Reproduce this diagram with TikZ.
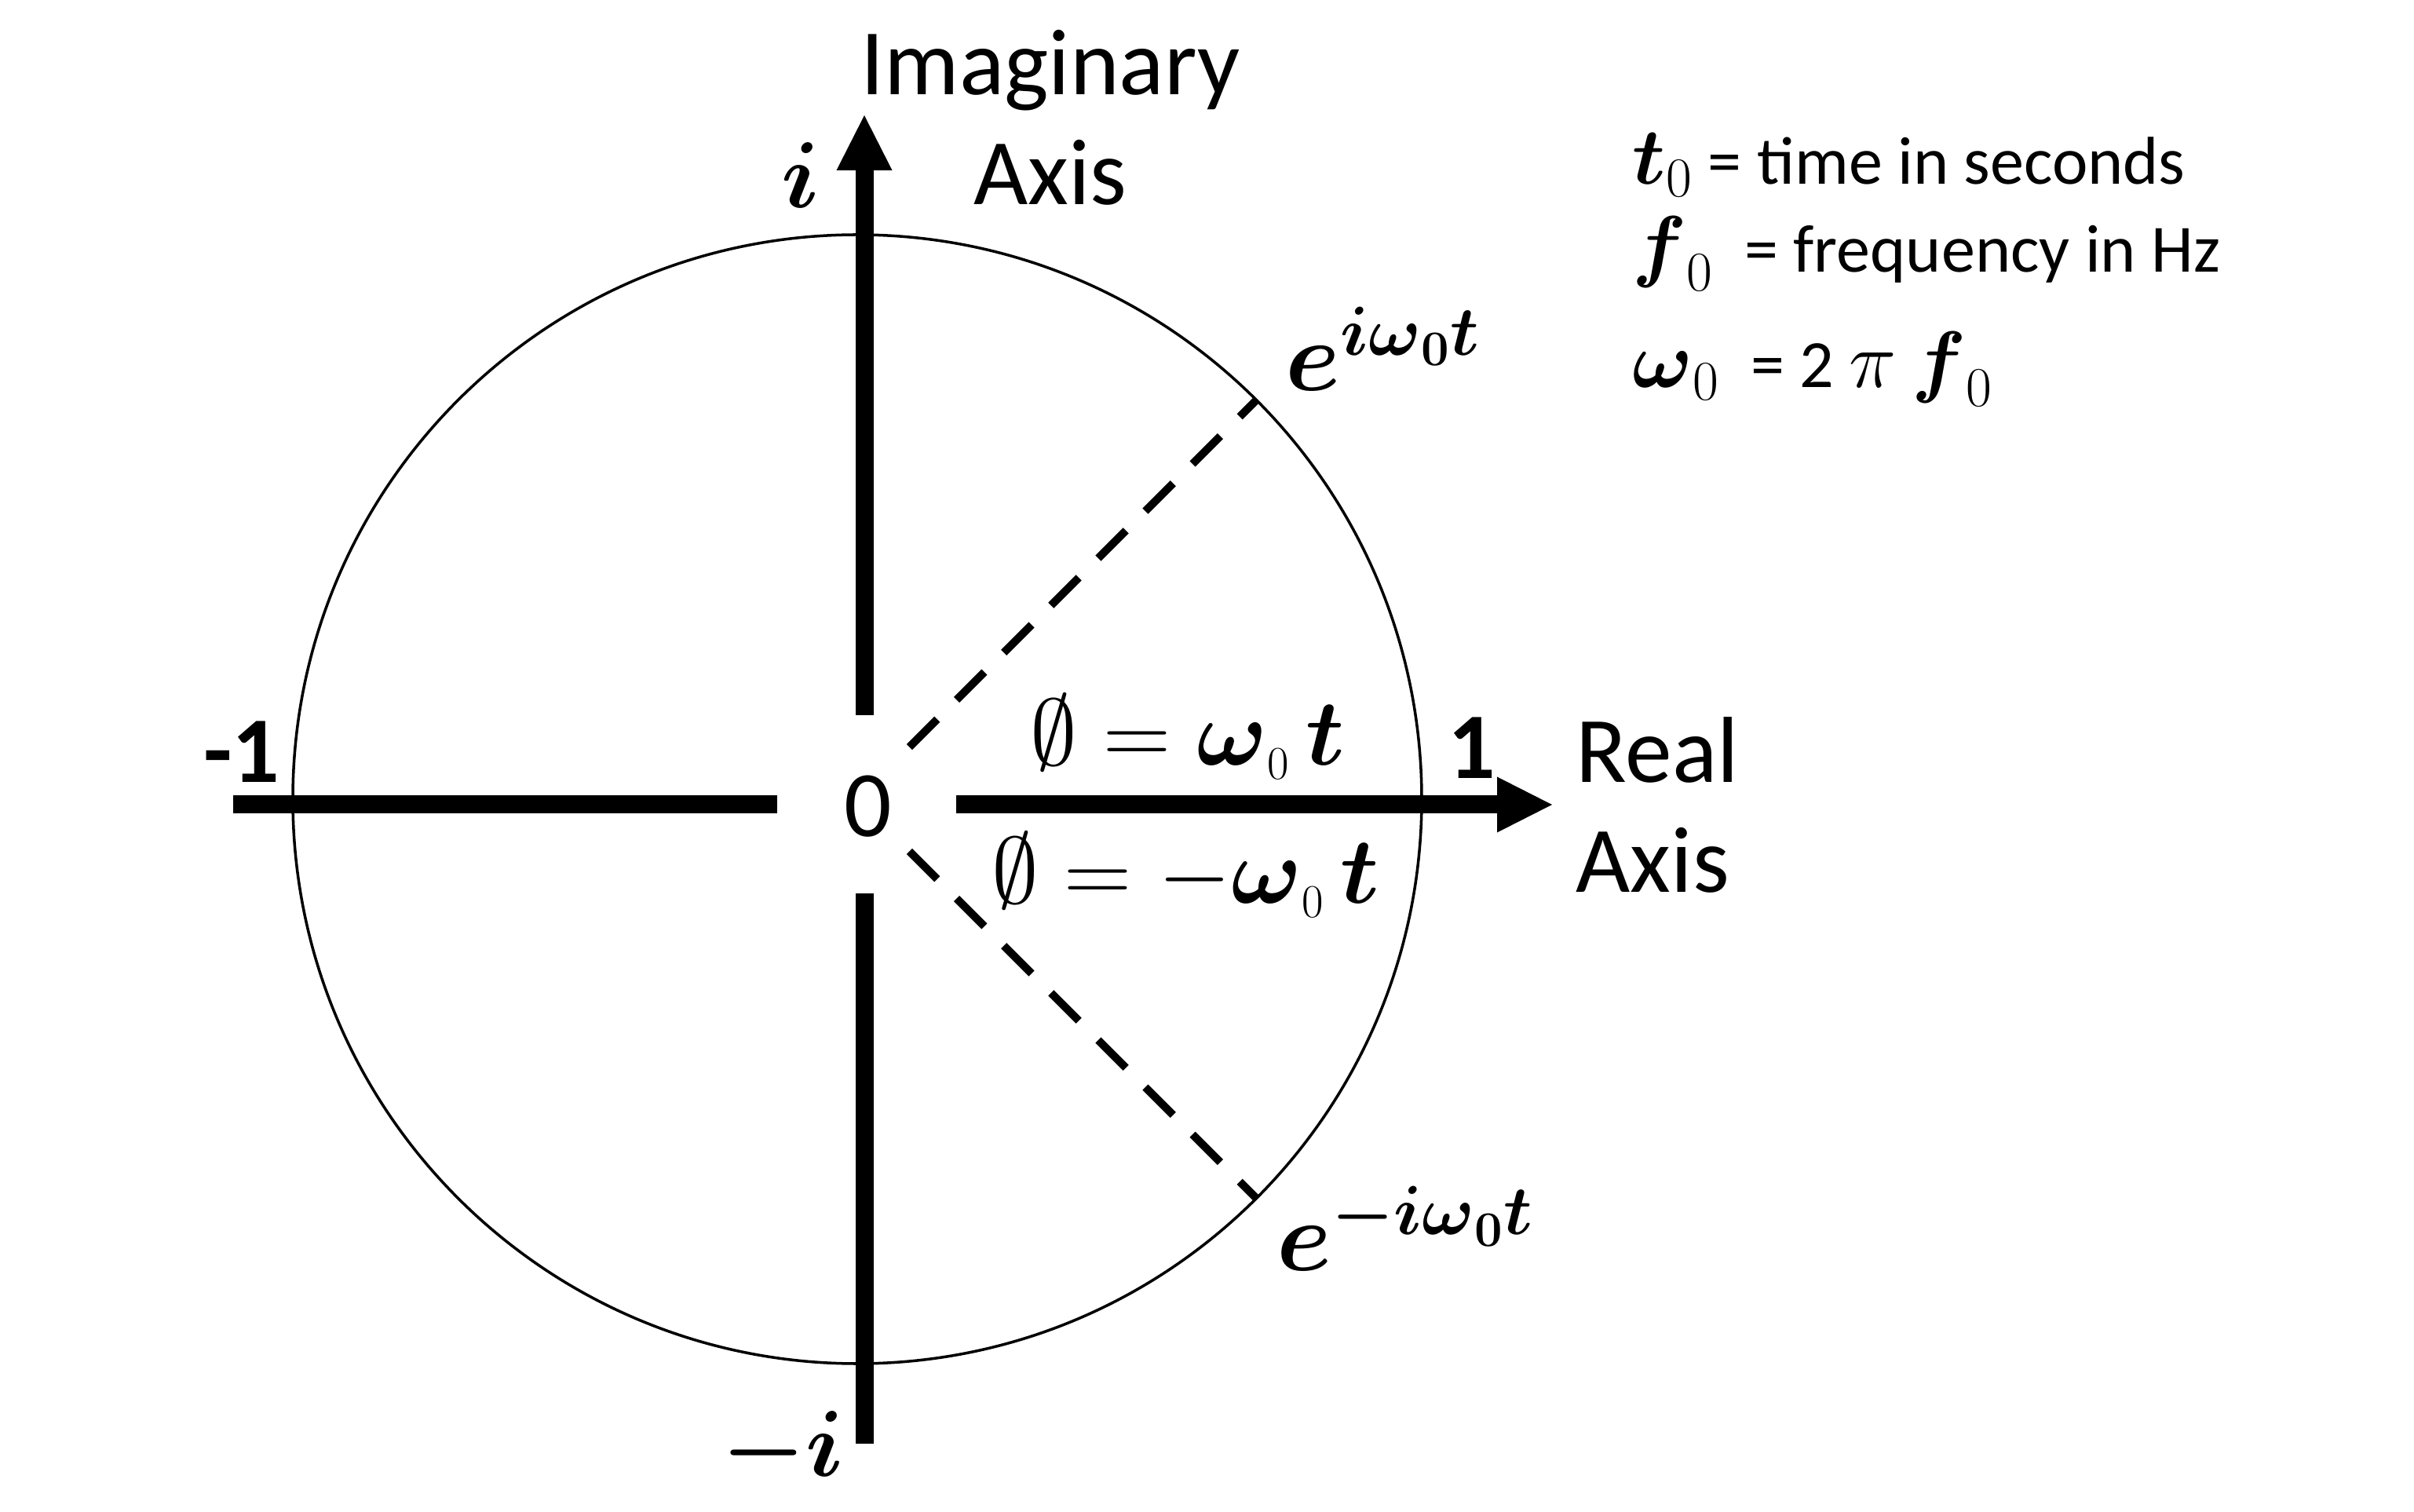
\RequirePackage{fix-cm}
\documentclass[tikz,border=0pt]{standalone}
\usepackage{amsmath}
\usepackage[no-math]{fontspec}
\setmainfont{Carlito}
\usepackage{tikz}
\usetikzlibrary{arrows.meta, calc}
\tikzset{
  axisbar/.style={line width=2.3mm},
  axisarrow/.style={axisbar, -{Triangle[length=7mm, width=7.1mm, line width=0pt]}},
  phaseline/.style={line width=1mm, dash pattern=on 5mm off 3.5mm},
  unitcircle/.style={line width=1pt},
  biglabel/.style={font=\fontsize{34}{40}\selectfont, inner sep=0pt},
  ticklabel/.style={biglabel, font=\fontsize{34}{40}\selectfont\bfseries},
  deflabel/.style={font=\fontsize{24.5}{28}\selectfont, inner sep=0pt, anchor=base west}
}
\newcommand{\defsym}[1]{{\fontsize{29}{34}\selectfont$#1$}}

\begin{document}
\begin{tikzpicture}

% --- Radii ---
\def\rad{7.19}
\def\rin{0.94}

\useasboundingbox (-11.01,-9.01) rectangle (19.74,10.25);

% --- Origin of the axes and centre of the circle ---
\coordinate (O) at (0,0);
\coordinate (c) at (-0.09,0.07);

% --- Unit circle ---
\draw[unitcircle] (c) circle (\rad);

% --- Axis ends ---
\coordinate (xneg)   at (-8.04,0);
\coordinate (xnegin) at (-1.11,0);
\coordinate (xposin) at (1.17,0);
\coordinate (xpos)   at (8.76,0);
\coordinate (yposin) at (0,1.14);
\coordinate (ypos)   at (0,8.78);
\coordinate (ynegin) at (0,-1.13);
\coordinate (yneg)   at (0,-8.14);

% --- Axes ---
\draw[axisbar]   (xneg) -- (xnegin);
\draw[axisarrow] (xposin) -- (xpos);
\draw[axisarrow] (yposin) -- (ypos);
\draw[axisbar]   (ynegin) -- (yneg);

% --- Phase lines (45 degrees up and down) ---
\coordinate (pu0) at ($(c)+(45:\rin)$);
\coordinate (pu1) at ($(c)+(45:\rad)$);
\coordinate (pd0) at ($(c)+(-45:\rin)$);
\coordinate (pd1) at ($(c)+(-45:\rad)$);
\draw[phaseline] (pu0) -- (pu1);
\draw[phaseline] (pd0) -- (pd1);

% --- Axis labels (base = baseline of the last line) ---
\node[biglabel, align=center, anchor=base] (lblImag) at (2.37,7.64) {Imaginary\\Axis};
\node[biglabel, align=left, anchor=base west] (lblReal) at (9.06,-1.12) {Real\\Axis};
\node[biglabel] (lblZero) at (0.05,-0.02) {0};
\node[ticklabel, anchor=base] (lblMinusOne) at (-7.93,0.28) {-1};
\node[ticklabel, anchor=base] (lblOne) at (7.74,0.33) {1};
\node[biglabel, anchor=base] (lblI) at (-0.81,7.6) {$\boldsymbol{i}$};
\node[biglabel, anchor=base] (lblMinusI) at (-1.04,-8.55) {$\boldsymbol{-i}$};

% --- Phase angles ---
\node[biglabel, anchor=base] (phasePos) at (4.12,0.50)
  {$\emptyset = \boldsymbol{\omega}_{\scriptscriptstyle 0}\,\boldsymbol{t}$};
\node[biglabel, anchor=base] (phaseNeg) at (4.09,-1.26)
  {$\emptyset = -\boldsymbol{\omega}_{\scriptscriptstyle 0}\,\boldsymbol{t}$};

% --- Points on the circle ---
\node[biglabel, font=\fontsize{36}{42}\selectfont, anchor=base] (expPos) at (6.61,5.27)
  {$\boldsymbol{e}^{\boldsymbol{i\omega}_{\mathbf{0}}\boldsymbol{t}}$};
\node[biglabel, font=\fontsize{36}{42}\selectfont, anchor=base] (expNeg) at (6.89,-5.93)
  {$\boldsymbol{e}^{\boldsymbol{-i\omega}_{\mathbf{0}}\boldsymbol{t}}$};

% --- Definitions ---
\node[deflabel] (defT) at (9.78,7.90) {\defsym{\boldsymbol{t}_0} = time in seconds};
\node[deflabel] (defF) at (9.78,6.78) {\defsym{\boldsymbol{f}_0}\ \ = frequency in Hz};
\node[deflabel] (defW) at (9.78,5.31) {\defsym{\boldsymbol{\omega}_0}\ \ = 2 \defsym{\pi} \defsym{\boldsymbol{f}_0}};

\end{tikzpicture}
\end{document}
